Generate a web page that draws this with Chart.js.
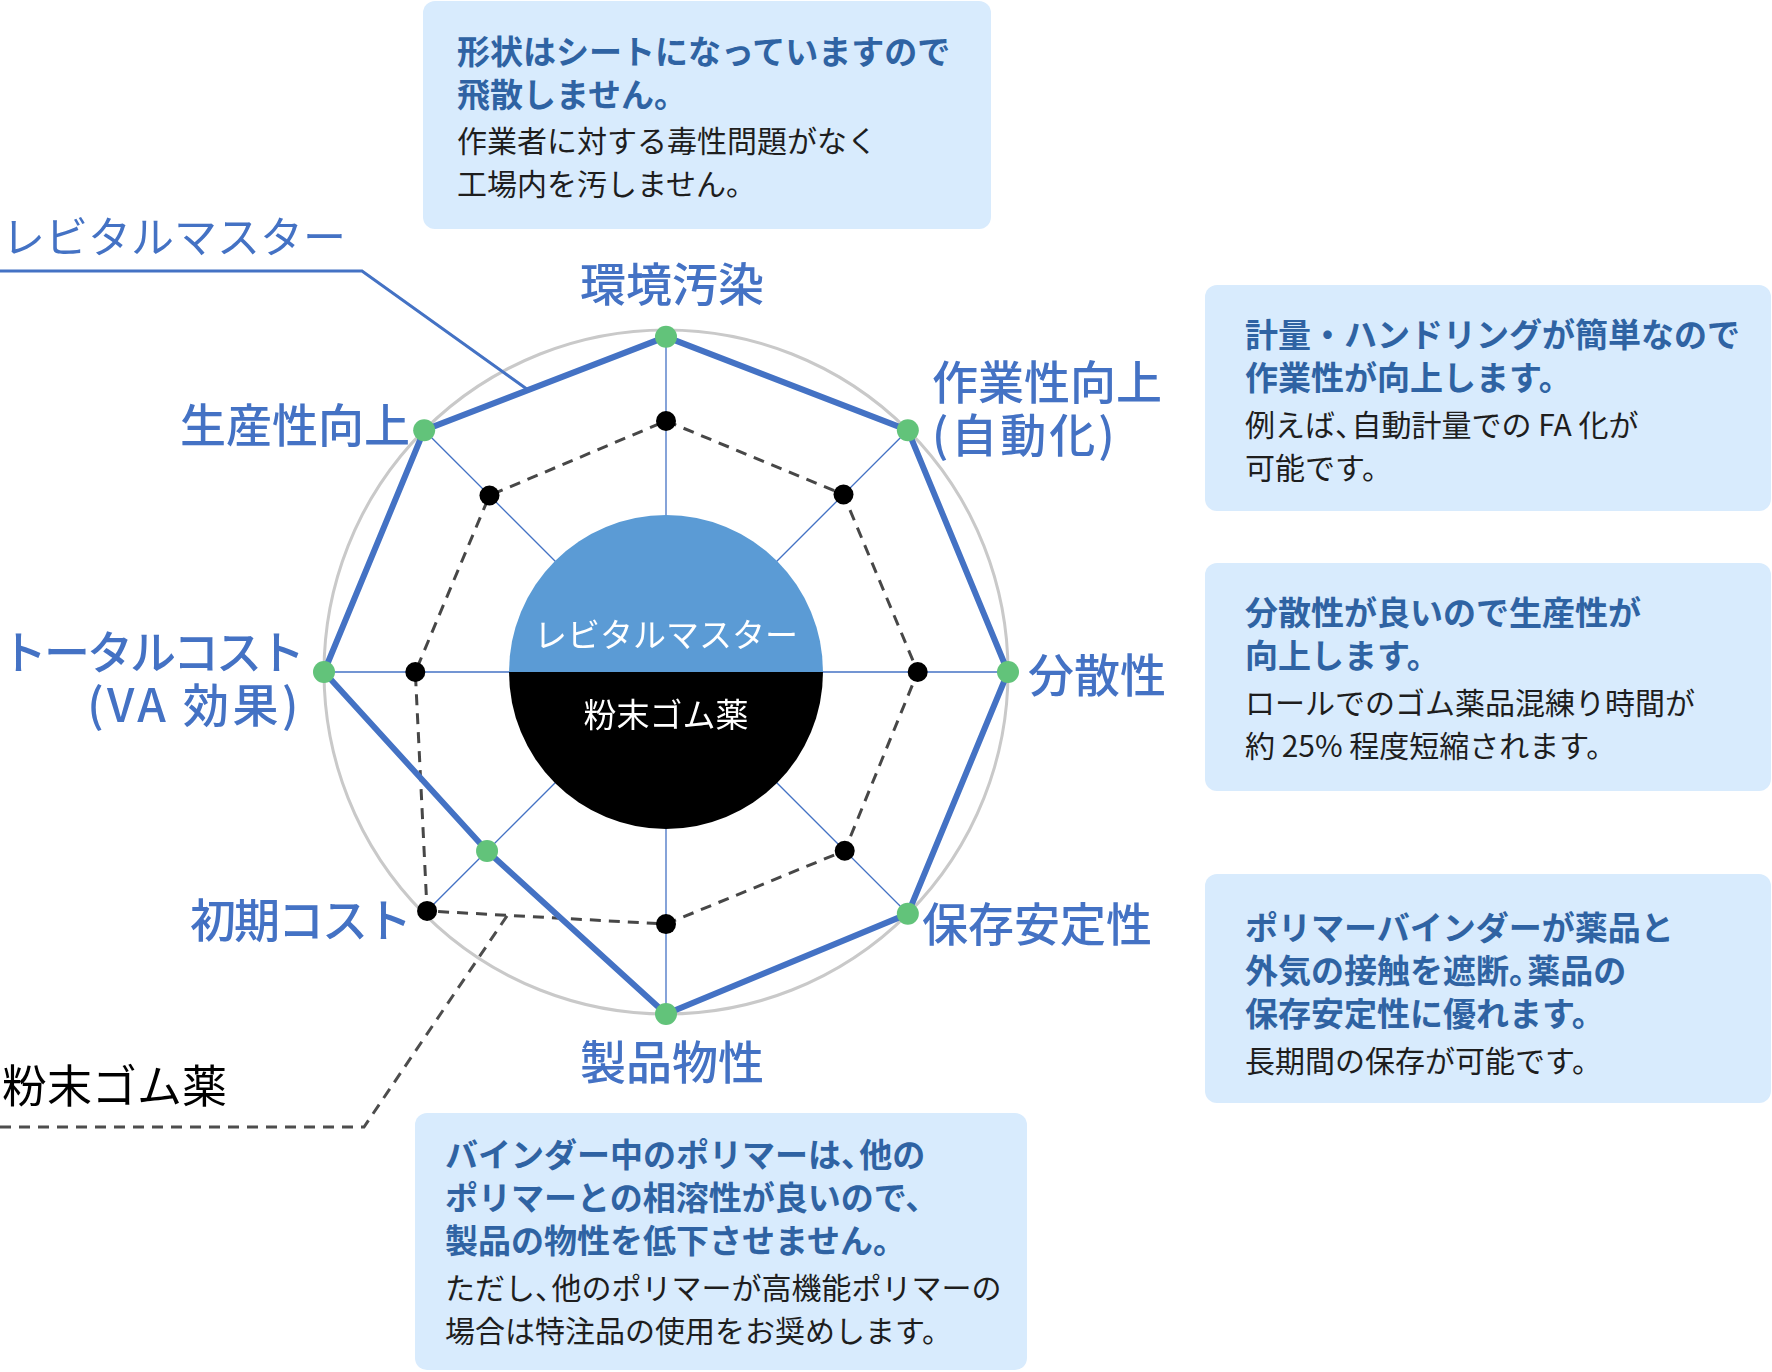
<!DOCTYPE html>
<html lang="ja">
<head>
<meta charset="utf-8">
<title>レビタルマスター / 粉末ゴム薬 比較</title>
<script src="https://cdn.jsdelivr.net/npm/chart.js@4"></script>
<style>
  html, body { margin: 0; padding: 0; background: #fff; }
  body { font-family: "Noto Sans CJK JP", "Noto Sans", sans-serif; }
  #stage { position: relative; width: 1772px; height: 1372px; overflow: hidden; }
  #chart { position: absolute; left: 0; top: 0; }
  .note { position: absolute; box-sizing: border-box; background: #d8ebfd; border-radius: 12px; }
  .note p { margin: 0; line-height: 43px; white-space: nowrap; }
  .note .lead { font-size: 33px; font-weight: 700; color: #2f63a3; }
  .note .body { font-size: 30px; color: #1e1e1e; margin-top: 4px; }
  .note .tight { margin-right: -0.45em; }
  .tag { position: absolute; left: 2px; line-height: 60px; white-space: nowrap; }
</style>
</head>
<body>
<div id="stage">
  <canvas id="chart" width="1772" height="1372"></canvas>

  <div class="tag" style="top:204px;font-size:43px;color:#4472c4">レビタルマスター</div>
  <div class="tag" style="top:1054px;font-size:45px;color:#000">粉末ゴム薬</div>

  <div class="note" style="left:423px;top:1px;width:568px;height:228px;padding:28px 0 0 34px">
    <p class="lead">形状はシートになっていますので<br>飛散しません。</p>
    <p class="body" style="margin-top:3px">作業者に対する毒性問題がなく<br>工場内を汚しません。</p>
  </div>
  <div class="note" style="left:1205px;top:285px;width:566px;height:226px;padding:27px 0 0 40px">
    <p class="lead">計量・ハンドリングが簡単なので<br>作業性が向上します。</p>
    <p class="body">例えば<span class="tight">、</span>自動計量での FA 化が<br>可能です。</p>
  </div>
  <div class="note" style="left:1205px;top:563px;width:566px;height:228px;padding:27px 0 0 40px">
    <p class="lead">分散性が良いので生産性が<br>向上します。</p>
    <p class="body">ロールでのゴム薬品混練り時間が<br>約 25% 程度短縮されます。</p>
  </div>
  <div class="note" style="left:1205px;top:874px;width:566px;height:229px;padding:31px 0 0 40px">
    <p class="lead">ポリマーバインダーが薬品と<br>外気の接触を遮断<span class="tight">。</span>薬品の<br>保存安定性に優れます。</p>
    <p class="body">長期間の保存が可能です。</p>
  </div>
  <div class="note" style="left:415px;top:1113px;width:612px;height:257px;padding:19px 0 0 30px">
    <p class="lead">バインダー中のポリマーは<span class="tight">、</span>他の<br>ポリマーとの相溶性が良いので、<br>製品の物性を低下させません。</p>
    <p class="body">ただし<span class="tight">、</span>他のポリマーが高機能ポリマーの<br>場合は特注品の使用をお奨めします。</p>
  </div>
</div>

<script>
// ─── Data ─────────────────────────────────────────────────────────────────────

const AXES = [
  ['環境汚染'],
  ['作業性向上', '(自動化)'],
  ['分散性'],
  ['保存安定性'],
  ['製品物性'],
  ['初期コスト'],
  ['トータルコスト', '(VA 効果)'],
  ['生産性向上'],
];
const SERIES_NAMES = ['レビタルマスター', '粉末ゴム薬'];
const REVITAL = [9.8, 10, 10, 10, 10, 7.4, 10, 10];
const POWDER  = [7.34, 7.34, 7.36, 7.39, 7.37, 9.88, 7.33, 7.3];
const SCALE_MAX = 10;

const BLUE = '#4472c4';

// small hand nudges (px) so each axis name sits where the original puts it
const LABEL_NUDGE = [[6, 0], [10, -8], [0, 3], [0, -4], [6, 2], [0, -8], [-2, 6], [0, 8]];
// letter spacing per line: katakana set tighter, bracketed lines looser
const LABEL_SPACING = [[0], [0, 3], [0], [0], [0], [-2], [-3, 3.5], [0]];

// ─── Plugins ──────────────────────────────────────────────────────────────────

// blue / black disc in the middle of the radar
const centerDisc = {
  id: 'centerDisc',
  beforeDatasetsDraw(chart) {
    const { ctx } = chart;
    const { xCenter: x, yCenter: y } = chart.scales.r;
    const rad = 157;
    ctx.save();
    ctx.beginPath();
    ctx.arc(x, y, rad, Math.PI, Math.PI * 2);
    ctx.closePath();
    ctx.fillStyle = '#5b9bd5';
    ctx.fill();
    ctx.beginPath();
    ctx.arc(x, y, rad, 0, Math.PI);
    ctx.closePath();
    ctx.fillStyle = '#000';
    ctx.fill();

    ctx.fillStyle = '#fff';
    ctx.textAlign = 'center';
    ctx.textBaseline = 'middle';
    ctx.font = '33px "Noto Sans CJK JP"';
    ctx.fillText(SERIES_NAMES[0], x, y - 38);
    ctx.fillText(SERIES_NAMES[1], x, y + 42);
    ctx.restore();
  },
};

// axis names around the circle
const axisLabels = {
  id: 'axisLabels',
  afterDraw(chart) {
    const { ctx } = chart;
    const r = chart.scales.r;
    const lh = 53;
    ctx.save();
    ctx.font = '500 46px "Noto Sans CJK JP"';
    ctx.fillStyle = BLUE;
    ctx.textBaseline = 'middle';
    chart.data.labels.forEach((lines, i) => {
      const deg = Math.round(r.getIndexAngle(i) * 180 / Math.PI) % 360;
      const vertical = deg === 0 || deg === 180;
      const p = r.getPointPosition(i, r.drawingArea + (vertical ? 46 : 20));
      const [dx, dy] = LABEL_NUDGE[i] || [0, 0];
      ctx.textAlign = vertical ? 'center' : (deg < 180 ? 'left' : 'right');
      const top = p.y + dy - (lines.length - 1) * lh / 2;
      lines.forEach((t, k) => {
        ctx.letterSpacing = ((LABEL_SPACING[i] || [])[k] || 0) + 'px';
        ctx.fillText(t, p.x + dx, top + k * lh);
      });
    });
    ctx.restore();
  },
};

// leader lines from the series names to their polygons
const leaders = {
  id: 'leaders',
  afterDatasetsDraw(chart) {
    const { ctx } = chart;
    const lerp = (a, b, t) => ({ x: a.x + (b.x - a.x) * t, y: a.y + (b.y - a.y) * t });
    const lm = chart.getDatasetMeta(0).data;
    const pw = chart.getDatasetMeta(1).data;
    const lmEnd = lerp(lm[7], lm[0], 0.43);
    const pwEnd = lerp(pw[5], pw[4], 0.336);

    ctx.save();
    ctx.lineWidth = 3;
    ctx.strokeStyle = BLUE;
    ctx.beginPath();
    ctx.moveTo(0, 271);
    ctx.lineTo(362, 271);
    ctx.lineTo(lmEnd.x, lmEnd.y);
    ctx.stroke();

    ctx.strokeStyle = '#4d4d4d';
    ctx.setLineDash([11, 8]);
    ctx.beginPath();
    ctx.moveTo(0, 1127);
    ctx.lineTo(364, 1127);
    ctx.lineTo(pwEnd.x, pwEnd.y);
    ctx.stroke();
    ctx.restore();
  },
};

// ─── Chart ────────────────────────────────────────────────────────────────────

new Chart(document.getElementById('chart'), {
  type: 'radar',
  data: {
    labels: AXES,
    datasets: [
      {
        label: SERIES_NAMES[0],
        data: REVITAL,
        borderColor: BLUE,
        borderWidth: 6,
        backgroundColor: 'transparent',
        fill: false,
        pointRadius: 11,
        pointBorderWidth: 0,
        pointBackgroundColor: '#62c37a',
        pointBorderColor: '#62c37a',
      },
      {
        label: SERIES_NAMES[1],
        data: POWDER,
        borderColor: '#474747',
        borderWidth: 3,
        borderDash: [11, 8],
        backgroundColor: 'transparent',
        fill: false,
        pointRadius: 10,
        pointBorderWidth: 0,
        pointBackgroundColor: '#000',
        pointBorderColor: '#000',
      },
    ],
  },
  options: {
    responsive: false,
    animation: false,
    devicePixelRatio: 1,
    layout: { padding: { left: 324, right: 764, top: 330, bottom: 358 } },
    elements: { line: { tension: 0 } },
    plugins: { legend: { display: false }, tooltip: { enabled: false } },
    scales: {
      r: {
        min: 0,
        max: SCALE_MAX,
        ticks: { display: false, stepSize: SCALE_MAX },
        grid: { circular: true, color: '#c9c9c9', lineWidth: 3 },
        angleLines: { color: BLUE, lineWidth: 1.3 },
        pointLabels: { display: false },
      },
    },
  },
  plugins: [centerDisc, leaders, axisLabels],
});
</script>
</body>
</html>
